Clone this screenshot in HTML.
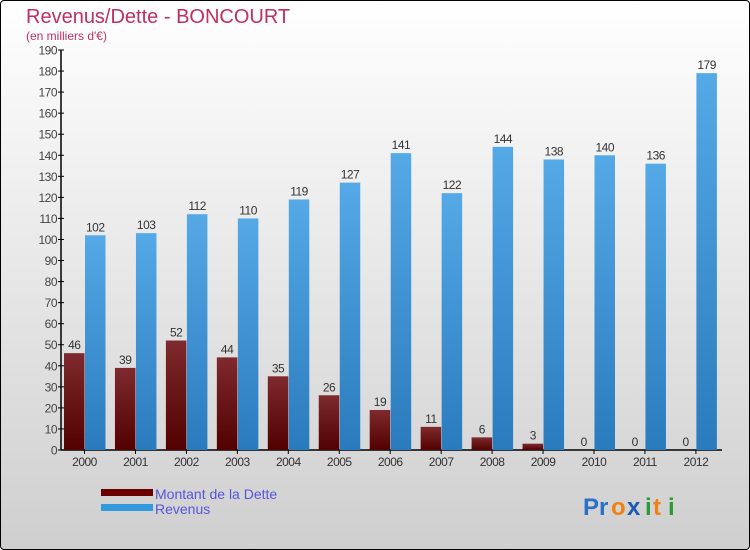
<!DOCTYPE html>
<html><head><meta charset="utf-8"><style>
body{margin:0;width:750px;height:550px;overflow:hidden;font-family:"Liberation Sans",sans-serif}
#wrap{position:absolute;left:0;top:0;width:748px;height:548px;border:1px solid #000;border-radius:4px;background:linear-gradient(#ffffff,#cfcfcf)}
</style></head><body>
<div id="wrap">
<svg id="chart" width="750" height="550" style="position:absolute;left:-1px;top:-1px">
<defs>
<linearGradient id="gd" x1="0" y1="0" x2="0" y2="1"><stop offset="0" stop-color="#7e2a2e"/><stop offset="1" stop-color="#520000"/></linearGradient>
<linearGradient id="gr" x1="0" y1="0" x2="0" y2="1"><stop offset="0" stop-color="#55a9e6"/><stop offset="1" stop-color="#2a7bbd"/></linearGradient>
</defs>
<text x="26" y="23" font-size="20" fill="#c0305f">Revenus/Dette - BONCOURT</text>
<text x="26" y="40" font-size="12" fill="#c0305f">(en milliers d'€)</text>
<g id="axes"></g><g id="bars"></g>
<rect x="101" y="489" width="52" height="7" fill="#6a0000"/>
<text x="155" y="499" font-size="14" fill="#5555dd">Montant de la Dette</text>
<rect x="101" y="504" width="52" height="7" fill="#3399dd"/>
<text x="155" y="514" font-size="14" fill="#5555dd">Revenus</text>
<g font-size="24" font-weight="bold">
<text x="583" y="515" fill="#2a70c8">Pr</text><text x="611" y="515" fill="#f08010">o</text><text x="627" y="515" fill="#1a5ab0">x</text><text x="645" y="515" fill="#2a9a3a">i</text><text x="653" y="515" fill="#f08010">t</text><text x="668" y="515" fill="#2a9a3a">i</text>
</g>
</svg></div>
<script>
const years=["2000","2001","2002","2003","2004","2005","2006","2007","2008","2009","2010","2011","2012"];
const dette=[46,39,52,44,35,26,19,11,6,3,0,0,0];
const revenus=[102,103,112,110,119,127,141,122,144,138,140,136,179];
const yTicks=[0,10,20,30,40,50,60,70,80,90,100,110,120,130,140,150,160,170,180,190];
const NS="http://www.w3.org/2000/svg";
const y0=450,yTop=50,yMax=190,x0=64,step=50.95,bw=20.5;
const ys=v=>y0-(v/yMax)*(y0-yTop);
const axes=document.getElementById('axes'),bars=document.getElementById('bars');
function mk(tag,attrs,parent){const e=document.createElementNS(NS,tag);for(const k in attrs)e.setAttribute(k,attrs[k]);parent.appendChild(e);return e;}
const ax=mk('line',{x1:61,y1:yTop,x2:61,y2:y0,stroke:'#000','stroke-width':1.5},axes);


const xa=mk('line',{x1:61,y1:y0,x2:722,y2:y0,stroke:'#000','stroke-width':1.5},axes);


yTicks.forEach(t=>{const y=ys(t);
mk('line',{x1:58,y1:y,x2:64,y2:y,stroke:'#000'},axes);
const tx=mk('text',{x:57,y:y+4.5,'font-size':12,fill:'#444','text-anchor':'end','letter-spacing':'-0.5'},axes);tx.textContent=t;

});
years.forEach((yr,i)=>{const gx=x0+i*step;
const tl=mk('text',{x:gx+bw,y:466,'font-size':12,fill:'#333','text-anchor':'middle','letter-spacing':'-0.5'},axes);tl.textContent=yr;


mk('line',{x1:gx+bw,y1:y0,x2:gx+bw,y2:y0+4,stroke:'#000'},axes);
[[dette[i],'url(#gd)',gx,'bar-dette'],[revenus[i],'url(#gr)',gx+bw+0.5,'bar-revenus']].forEach(([v,f,x,n])=>{
const r=mk('rect',{x:x,y:ys(v),width:bw,height:y0-ys(v),fill:f},bars);


const l=mk('text',{x:x+bw/2,y:ys(v)-4,'font-size':12,fill:'#333','text-anchor':'middle','letter-spacing':'-0.5'},bars);l.textContent=v;

});});
</script>
</body></html>
